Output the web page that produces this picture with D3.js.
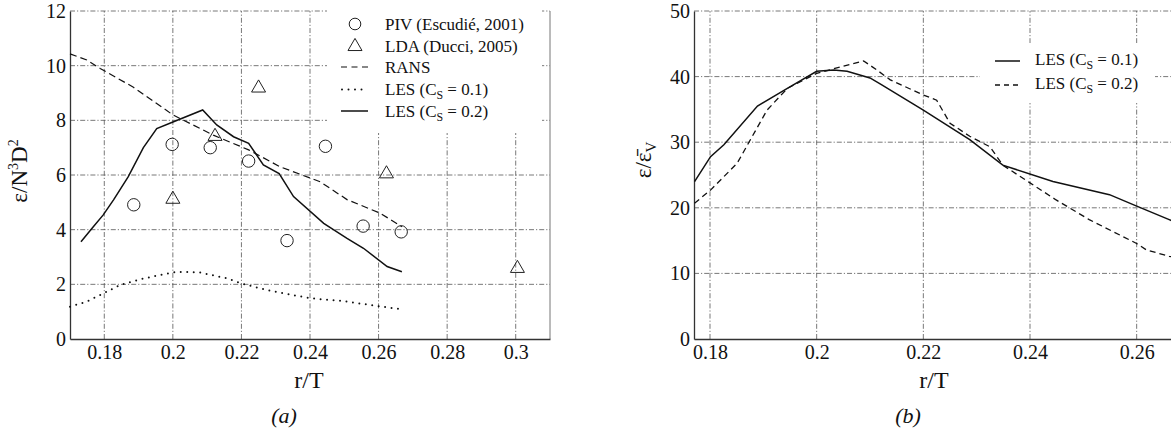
<!DOCTYPE html>
<html><head><meta charset="utf-8">
<script src="https://cdn.jsdelivr.net/npm/d3@7"></script>
<style>
body{margin:0;background:#fff;}
svg{display:block;}
svg text{font-family:"Liberation Serif","Times New Roman",Times,serif !important;}
</style></head>
<body>
<svg id="c" width="1171" height="432"></svg>
<script>
// ---------- Data: panel (a) ----------
const xTicksA = [0.18, 0.2, 0.22, 0.24, 0.26, 0.28, 0.3];
const xTickLabelsA = ["0.18", "0.2", "0.22", "0.24", "0.26", "0.28", "0.3"];
const yTicksA = [0, 2, 4, 6, 8, 10, 12];
const pivR = [0.1886, 0.1998, 0.2109, 0.2221, 0.2333, 0.2445, 0.2555, 0.2666];
const pivV = [4.91, 7.12, 7.0, 6.51, 3.6, 7.05, 4.13, 3.92];
const ldaR = [0.2, 0.2123, 0.225, 0.2623, 0.3005];
const ldaV = [5.15, 7.45, 9.22, 6.08, 2.62];
const ransR = [0.17, 0.1749, 0.1788, 0.1885, 0.2, 0.2118, 0.2221, 0.2313, 0.243, 0.2508, 0.2605, 0.2668];
const ransV = [10.43, 10.21, 9.9, 9.21, 8.2, 7.46, 6.92, 6.3, 5.75, 5.1, 4.6, 4.11];
const les01aR = [0.17, 0.1749, 0.1798, 0.1846, 0.1904, 0.1963, 0.2012, 0.208, 0.2157, 0.2198, 0.2274, 0.2333, 0.24, 0.2488, 0.2596, 0.2659];
const les01aV = [1.18, 1.37, 1.67, 1.98, 2.18, 2.34, 2.46, 2.43, 2.22, 2.04, 1.79, 1.65, 1.49, 1.40, 1.21, 1.10];
const les02aR = [0.1732, 0.1768, 0.1797, 0.1827, 0.187, 0.1914, 0.1953, 0.2002, 0.2087, 0.2128, 0.2177, 0.2221, 0.2264, 0.231, 0.2352, 0.244, 0.2508, 0.2556, 0.2625, 0.2668];
const les02aV = [3.56, 4.11, 4.54, 5.09, 5.94, 7.0, 7.7, 7.95, 8.38, 7.83, 7.4, 7.16, 6.37, 6.05, 5.21, 4.23, 3.68, 3.32, 2.65, 2.46];
const legendA = ["PIV (Escudié, 2001)", "LDA (Ducci, 2005)", "RANS", "LES (C|S| = 0.1)", "LES (C|S| = 0.2)"];

// ---------- Data: panel (b) ----------
const xTicksB = [0.18, 0.2, 0.22, 0.24, 0.26];
const xTickLabelsB = ["0.18", "0.2", "0.22", "0.24", "0.26"];
const yTicksB = [0, 10, 20, 30, 40, 50];
const les01bR = [0.1771, 0.1801, 0.1826, 0.1889, 0.1945, 0.2, 0.2032, 0.2057, 0.21, 0.2119, 0.22, 0.2287, 0.2349, 0.2443, 0.2549, 0.2599, 0.2661, 0.2675];
const les01bV = [24.0, 27.8, 29.6, 35.5, 38.2, 40.8, 41.0, 40.8, 39.8, 38.9, 34.9, 30.4, 26.5, 24.0, 22.0, 20.3, 18.2, 17.7];
const les02bR = [0.1771, 0.1801, 0.1851, 0.1907, 0.1945, 0.2, 0.2088, 0.2113, 0.2138, 0.22, 0.2225, 0.225, 0.2287, 0.2325, 0.2349, 0.24, 0.2449, 0.2511, 0.2599, 0.2618, 0.2661, 0.2675];
const les02bV = [20.7, 22.7, 26.8, 34.9, 38.2, 40.5, 42.4, 41.0, 39.5, 37.2, 36.4, 32.9, 30.9, 29.3, 26.5, 23.8, 21.2, 18.2, 14.6, 13.6, 12.6, 12.4];
const legendB = ["LES (C|S| = 0.1)", "LES (C|S| = 0.2)"];

const svg = d3.select("#c");
const GRID = "5,2,1.2,2";

function addLabel(sel, str, x, y, size) {
  const t = sel.append("text").attr("x", x).attr("y", y)
    .attr("font-size", size).attr("fill", "#111");
  const parts = str.split("|");
  parts.forEach((p, i) => {
    if (i % 2 === 1) {
      t.append("tspan").text(p).attr("font-size", size * 0.7).attr("dy", size * 0.25);
    } else {
      const ts = t.append("tspan").text(p);
      if (i > 0) ts.attr("dy", -size * 0.25);
    }
  });
  return t;
}

function panel(cfg) {
  const g = svg.append("g");
  const x = d3.scaleLinear().domain(cfg.xd).range(cfg.xr);
  const y = d3.scaleLinear().domain(cfg.yd).range([339, 11]);
  const x0 = cfg.xr[0], x1 = Math.min(cfg.xr[1], 1171);
  g.selectAll(".vg").data(cfg.xt).join("line")
    .attr("x1", d => x(d)).attr("x2", d => x(d)).attr("y1", 339).attr("y2", 11)
    .attr("stroke", "#555").attr("stroke-width", 0.8).attr("stroke-dasharray", GRID);
  g.selectAll(".hg").data(cfg.yt.filter(d => d > 0)).join("line")
    .attr("x1", x0).attr("x2", x1).attr("y1", d => y(d)).attr("y2", d => y(d))
    .attr("stroke", "#555").attr("stroke-width", 0.8).attr("stroke-dasharray", GRID);
  g.append("rect").attr("x", cfg.lb[0]).attr("y", cfg.lb[1]).attr("width", cfg.lb[2]).attr("height", cfg.lb[3]).attr("fill", "#fff");
  if (cfg.xr[1] <= 1171) {
    g.append("line").attr("x1", cfg.xr[1]).attr("x2", cfg.xr[1]).attr("y1", 11).attr("y2", 339)
      .attr("stroke", "#777").attr("stroke-width", 1);
  }
  const ya = g.append("g").attr("transform", `translate(${x0},0)`)
    .call(d3.axisLeft(y).tickValues(cfg.yt).tickSize(0).tickPadding(4).tickFormat(d3.format("d")));
  ya.attr("font-family", null);
  ya.select(".domain").attr("stroke", "#333").attr("stroke-width", 1.3);
  ya.selectAll("text").attr("font-size", 20).attr("fill", "#111");
  const xa = g.append("g").attr("transform", "translate(0,339)")
    .call(d3.axisBottom(x).tickValues(cfg.xt).tickSize(0).tickPadding(6).tickFormat((d, i) => cfg.xl[i]));
  xa.attr("font-family", null);
  xa.select(".domain").attr("stroke", "#333").attr("stroke-width", 1.3);
  xa.selectAll("text").attr("font-size", 20).attr("fill", "#111");
  return {g, x, y};
}

const line = (sx, sy) => d3.line().x(d => sx(d[0])).y(d => sy(d[1]));
const zip = (a, b) => a.map((v, i) => [v, b[i]]);

// ---------- Panel (a) ----------
const A = panel({xd: [0.17, 0.31], xr: [70, 550], yd: [0, 12], xt: xTicksA, xl: xTickLabelsA, yt: yTicksA, lb: [327, 3, 215, 130]});
const LA = line(A.x, A.y);
A.g.append("path").attr("d", LA(zip(ransR, ransV))).attr("fill", "none").attr("stroke", "#111").attr("stroke-width", 1.2).attr("stroke-dasharray", "7,4");
A.g.append("path").attr("d", LA(zip(les01aR, les01aV))).attr("fill", "none").attr("stroke", "#111").attr("stroke-width", 2).attr("stroke-linecap", "round").attr("stroke-dasharray", "0,6.5");
A.g.append("path").attr("d", LA(zip(les02aR, les02aV))).attr("fill", "none").attr("stroke", "#111").attr("stroke-width", 1.5);
A.g.selectAll(".piv").data(zip(pivR, pivV)).join("circle")
  .attr("cx", d => A.x(d[0])).attr("cy", d => A.y(d[1])).attr("r", 6.2)
  .attr("fill", "none").attr("stroke", "#222").attr("stroke-width", 1);
const tri = d3.symbol().type(d3.symbolTriangle).size(85);
A.g.selectAll(".lda").data(zip(ldaR, ldaV)).join("path")
  .attr("d", tri).attr("transform", d => `translate(${A.x(d[0])},${A.y(d[1]) + 1})`)
  .attr("fill", "none").attr("stroke", "#222").attr("stroke-width", 1);
const legY = [30, 51.5, 73, 94.5, 117];
legendA.forEach((s, i) => addLabel(A.g, s, 385, legY[i], 17));
A.g.append("circle").attr("cx", 355).attr("cy", legY[0] - 6).attr("r", 5.8).attr("fill", "none").attr("stroke", "#222").attr("stroke-width", 1);
A.g.append("path").attr("d", tri).attr("transform", `translate(355,${legY[1] - 5})`).attr("fill", "none").attr("stroke", "#222").attr("stroke-width", 1);
A.g.append("line").attr("x1", 341).attr("x2", 368).attr("y1", legY[2] - 6).attr("y2", legY[2] - 6).attr("stroke", "#111").attr("stroke-width", 1.2).attr("stroke-dasharray", "6,4.5");
A.g.append("line").attr("x1", 342).attr("x2", 368).attr("y1", legY[3] - 5).attr("y2", legY[3] - 5).attr("stroke", "#111").attr("stroke-width", 2).attr("stroke-linecap", "round").attr("stroke-dasharray", "0,6.5");
A.g.append("line").attr("x1", 341).attr("x2", 368).attr("y1", legY[4] - 6).attr("y2", legY[4] - 6).attr("stroke", "#111").attr("stroke-width", 1.5);
const ta = A.g.append("text").attr("transform", "translate(27,171) rotate(-90)").attr("text-anchor", "middle").attr("font-size", 23).attr("fill", "#111");
ta.append("tspan").text("ε/N");
ta.append("tspan").text("3").attr("font-size", 14).attr("dy", -9);
ta.append("tspan").text("D").attr("dy", 9);
ta.append("tspan").text("2").attr("font-size", 14).attr("dy", -9);
A.g.append("text").attr("x", 309).attr("y", 388).attr("text-anchor", "middle").attr("font-size", 24).attr("fill", "#111").text("r/T");
A.g.append("text").attr("x", 284).attr("y", 423).attr("text-anchor", "middle").attr("font-size", 22).attr("font-style", "italic").attr("fill", "#111").text("(a)");

// ---------- Panel (b) ----------
const B = panel({xd: [0.177, 0.267], xr: [694, 1174], yd: [0, 50], xt: xTicksB, xl: xTickLabelsB, yt: yTicksB, lb: [980, 43, 175, 60]});
const LB = line(B.x, B.y);
B.g.append("path").attr("d", LB(zip(les02bR, les02bV))).attr("fill", "none").attr("stroke", "#111").attr("stroke-width", 1.3).attr("stroke-dasharray", "6,4");
B.g.append("path").attr("d", LB(zip(les01bR, les01bV))).attr("fill", "none").attr("stroke", "#111").attr("stroke-width", 1.5);
const legYB = [65, 89];
legendB.forEach((s, i) => addLabel(B.g, s, 1035, legYB[i], 17));
B.g.append("line").attr("x1", 995).attr("x2", 1020).attr("y1", legYB[0] - 4).attr("y2", legYB[0] - 4).attr("stroke", "#111").attr("stroke-width", 1.5);
B.g.append("line").attr("x1", 995).attr("x2", 1020).attr("y1", legYB[1] - 4).attr("y2", legYB[1] - 4).attr("stroke", "#111").attr("stroke-width", 1.3).attr("stroke-dasharray", "5,4");
const tb = B.g.append("text").attr("transform", "translate(651,160) rotate(-90)").attr("text-anchor", "middle").attr("font-size", 23).attr("fill", "#111");
tb.append("tspan").text("ε/ε\u0304");
tb.append("tspan").text("V").attr("font-size", 15).attr("dy", 5);
B.g.append("text").attr("x", 934).attr("y", 388).attr("text-anchor", "middle").attr("font-size", 24).attr("fill", "#111").text("r/T");
B.g.append("text").attr("x", 908).attr("y", 423).attr("text-anchor", "middle").attr("font-size", 22).attr("font-style", "italic").attr("fill", "#111").text("(b)");
</script>
</body></html>
